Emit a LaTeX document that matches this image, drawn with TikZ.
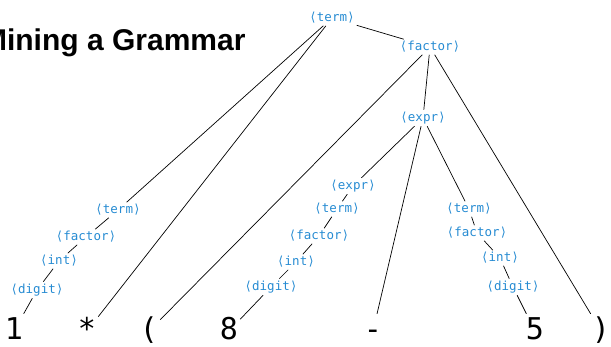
\documentclass[tikz,border=0pt]{standalone}
\usepackage{fontspec}
\setmainfont{Liberation Sans}
\setmonofont{DejaVu Sans Mono}
\usepackage{tikz}
\definecolor{ntbleu}{RGB}{38,139,210}
\tikzset{nt/.style={
    text=ntbleu, inner sep=2pt,
    font=\fontsize{12.5}{12.5}\selectfont\ttfamily},
  feuille/.style={
    anchor=base, inner sep=2pt, text height=24pt, text depth=6pt,
    font=\fontsize{30}{30}\selectfont\ttfamily},
  arbre/.style={
    line width=0.7pt}}

\begin{document}
\begin{tikzpicture}[x=1pt,y=-1pt]
\useasboundingbox (0,0) rectangle (611,347);

  % titre
\node[anchor=base east, font=\fontsize{30}{30}\selectfont\bfseries] (titre) at (249,51) {Mining a Grammar};

  % noeuds
\node[nt] (term0) at (332,18) {⟨term⟩};
\node[nt] (factor0) at (430,47) {⟨factor⟩};
\node[nt] (expr0) at (423,118) {⟨expr⟩};
\node[nt] (expr1) at (353,186) {⟨expr⟩};
\node[nt] (term1) at (337,209) {⟨term⟩};
\node[nt] (factor1) at (319,236) {⟨factor⟩};
\node[nt] (int1) at (296,262) {⟨int⟩};
\node[nt] (digit1) at (271,287) {⟨digit⟩};
\node[nt] (term2) at (469,209) {⟨term⟩};
\node[nt] (factor2) at (477,233) {⟨factor⟩};
\node[nt] (int2) at (500,258) {⟨int⟩};
\node[nt] (digit2) at (513,287) {⟨digit⟩};
\node[nt] (termL) at (118,210) {⟨term⟩};
\node[nt] (factorL) at (86,237) {⟨factor⟩};
\node[nt] (intL) at (59,261) {⟨int⟩};
\node[nt] (digitL) at (37,290) {⟨digit⟩};

  % feuilles
\node[feuille] (un) at (14,340) {1};
\node[feuille] (fois) at (87,340) {*};
\node[feuille] (ouvr) at (149,340) {(};
\node[feuille] (huit) at (229,340) {8};
\node[feuille] (moins) at (373,340) {-};
\node[feuille] (cinq) at (535,340) {5};
\node[feuille] (ferm) at (601,340) {)};

  % branches
\foreach \a/\b in {term0/termL, term0/fois, term0/factor0,
  factor0/ouvr, factor0/expr0, factor0/ferm,
  expr0/expr1, expr0/moins, expr0/term2,
  expr1/term1, term1/factor1, factor1/int1, int1/digit1, digit1/huit,
  term2/factor2, factor2/int2, int2/digit2, digit2/cinq,
  termL/factorL, factorL/intL, intL/digitL, digitL/un}
{
  \draw[arbre] (\a) -- (\b);
}
\end{tikzpicture}
\end{document}
